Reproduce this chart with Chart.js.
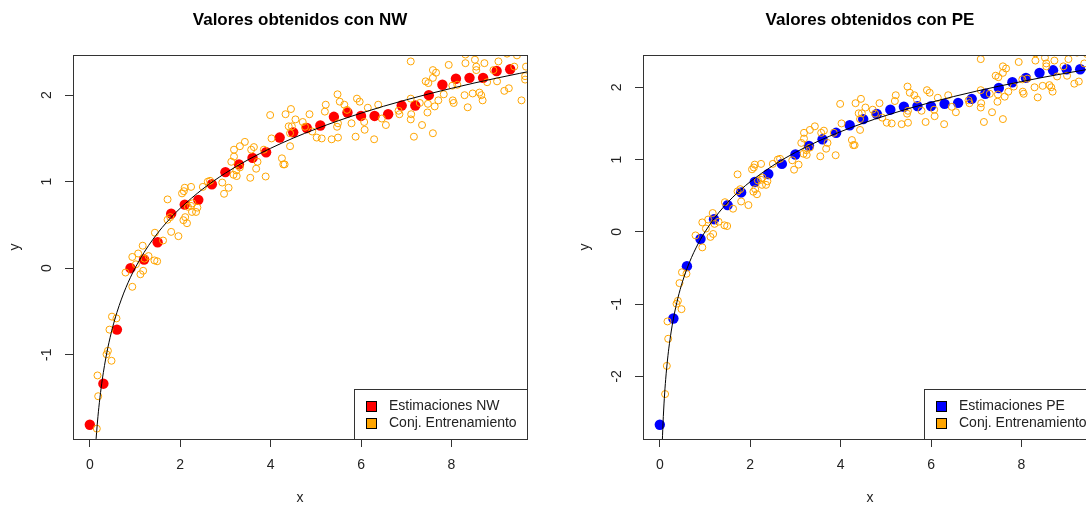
<!DOCTYPE html>
<html>
<head>
<meta charset="utf-8">
<script src="https://cdn.jsdelivr.net/npm/chart.js@4.4.1/dist/chart.umd.min.js"></script>
<style>
    html, body { margin: 0; padding: 0; background: #fff; overflow: hidden; width: 1086px; height: 507px; }
    canvas { position: absolute; top: 0; }
    #chart-nw { left: 0; }
    #chart-pe { left: 570px; }
</style>
</head>
<body>
<canvas id="chart-nw" width="570" height="507"></canvas>
<canvas id="chart-pe" width="570" height="507"></canvas>
<script>
// ---- Data ----
const estX = [0, 0.3, 0.6, 0.9, 1.2, 1.5, 1.8, 2.1, 2.4, 2.7, 3.0, 3.3, 3.6, 3.9, 4.2, 4.5,
              4.8, 5.1, 5.4, 5.7, 6.0, 6.3, 6.6, 6.9, 7.2, 7.5, 7.8, 8.1, 8.4, 8.7, 9.0, 9.3];
const nwY = [-1.81, -1.335, -0.71, 0.00, 0.10, 0.30, 0.63, 0.735, 0.79, 0.97, 1.11, 1.20, 1.275, 1.34, 1.51, 1.57,
             1.62, 1.65, 1.75, 1.80, 1.76, 1.76, 1.78, 1.88, 1.88, 2.00, 2.12, 2.19, 2.20, 2.20, 2.28, 2.30];
const peY = [-2.67, -1.20, -0.475, -0.10, 0.175, 0.37, 0.545, 0.69, 0.80, 0.94, 1.07, 1.19, 1.28, 1.37, 1.475, 1.56,
             1.63, 1.69, 1.73, 1.74, 1.74, 1.77, 1.785, 1.84, 1.91, 1.99, 2.07, 2.13, 2.20, 2.235, 2.25, 2.25];

// training set (same in both panels)
const trainX = [0.117, 0.155, 0.185, 0.17, 0.37, 0.40, 0.48, 0.435, 0.49, 0.59, 0.94, 0.79, 1.12, 1.18, 1.02, 0.94,
                1.07, 1.30, 1.43, 1.49, 1.21, 1.17, 1.44, 1.62, 1.80, 1.96, 1.72, 1.72, 1.78, 2.07, 2.15, 2.11,
                2.17, 2.10, 2.04, 2.08, 2.24, 2.26, 2.24, 2.35, 2.38, 2.27, 2.50, 2.61, 2.66, 2.93, 2.97, 3.07,
                3.13, 3.19, 3.19, 3.32, 3.43, 3.18, 3.25, 3.24, 3.32, 3.55, 3.57, 3.63, 3.68, 3.71, 3.85, 3.89,
                4.02, 3.99, 4.25, 4.28, 4.31, 4.33, 4.45, 4.40, 4.47, 4.55, 4.43, 4.43, 4.71, 4.76, 4.86, 4.92,
                5.02, 5.13, 5.20, 5.22, 5.35, 5.49, 5.48, 5.53, 5.63, 5.49, 5.47, 5.79, 5.69, 5.88, 5.91, 5.97,
                6.08, 6.07, 6.15, 6.29, 6.38, 6.46, 6.55, 6.83, 6.85, 7.10, 7.10, 7.11, 7.10, 7.17, 7.59, 7.35,
                7.47, 7.48, 7.63, 7.71, 7.30, 7.43, 7.49, 7.59, 7.66, 7.59, 7.83, 7.94, 8.03, 8.05, 8.02, 8.13,
                8.29, 8.36, 8.31, 8.31, 8.52, 8.55, 8.55, 8.73, 8.47, 8.62, 8.66, 8.69, 8.79, 8.93, 9.01, 9.04,
                9.17, 9.27, 9.23, 9.39, 9.55, 9.63, 9.63, 9.65, 9.45];
const trainY = [-2.245, -1.855, -1.48, -1.24, -0.995, -0.955, -1.07, -0.71, -0.56, -0.58, -0.215, -0.05, -0.07, -0.03, 0.045, 0.13,
                0.17, 0.14, 0.09, 0.08, 0.11, 0.26, 0.41, 0.32, 0.42, 0.37, 0.795, 0.56, 0.59, 0.555, 0.52, 0.59,
                0.71, 0.93, 0.865, 0.89, 0.94, 0.65, 0.72, 0.65, 0.70, 0.75, 0.94, 1.00, 1.01, 0.99, 0.86, 0.93,
                1.23, 1.29, 1.37, 1.41, 1.46, 1.08, 1.065, 1.13, 1.165, 1.045, 1.37, 1.40, 1.15, 1.23, 1.37, 1.06,
                1.50, 1.77, 1.27, 1.20, 1.20, 1.78, 1.84, 1.64, 1.64, 1.72, 1.41, 1.56, 1.69, 1.635, 1.78, 1.58,
                1.51, 1.50, 1.81, 1.89, 1.49, 1.51, 2.01, 1.925, 1.89, 1.675, 1.635, 1.675, 1.83, 1.52, 1.96, 1.925,
                1.60, 1.69, 1.855, 1.49, 1.89, 1.73, 1.655, 1.82, 1.78, 2.39, 1.96, 1.78, 1.72, 1.52, 1.56, 1.655,
                1.80, 1.90, 1.87, 1.94, 1.91, 2.16, 2.14, 2.29, 2.26, 2.20, 2.01, 2.35, 1.94, 1.91, 2.11, 2.12,
                2.00, 1.86, 2.47, 2.37, 2.41, 2.33, 2.29, 2.37, 2.02, 2.03, 2.00, 1.94, 2.15, 2.29, 2.16, 2.39,
                2.05, 2.08, 2.48, 2.33, 1.94, 2.22, 2.18, 2.33, 2.46];

// true curve
const curveX = [0.05, 0.07, 0.1, 0.13, 0.15, 0.18, 0.2, 0.25, 0.3, 0.35, 0.4, 0.5, 0.6, 0.7, 0.8, 0.9, 1.0,
                1.2, 1.4, 1.6, 1.8, 2.0, 2.5, 3.0, 3.5, 4.0, 4.5, 5.0, 5.5, 6.0, 6.5, 7.0, 7.5, 8.0, 8.5, 9.0, 9.5, 9.7];
const curveY = [-2.996, -2.659, -2.303, -2.040, -1.897, -1.715, -1.609, -1.386, -1.204, -1.050, -0.916, -0.693, -0.511, -0.357, -0.223, -0.105, 0,
                0.182, 0.336, 0.470, 0.588, 0.693, 0.916, 1.099, 1.253, 1.386, 1.504, 1.609, 1.705, 1.792, 1.872, 1.946, 2.015, 2.079, 2.140, 2.197, 2.251, 2.272];

const xTickVals = [0, 2, 4, 6, 8];
const nwYTicks = [-1, 0, 1, 2];
const peYTicks = [-2, -1, 0, 1, 2];

// ---- Helpers ----
const FONT = '"Liberation Sans", Arial, sans-serif';
Chart.defaults.font.family = FONT;
Chart.defaults.color = '#222';
Chart.defaults.animation = false;

const toPoints = (xs, ys) => xs.map((x, i) => ({ x: x, y: ys[i] }));

// R style axis range: data range extended by 4% each side
function rRange(vals) {
    const lo = Math.min(...vals), hi = Math.max(...vals);
    const d = (hi - lo) * 0.04;
    return [lo - d, hi + d];
}

// frame around plot + R style legend box in bottom right corner
const boxLegend = {
    id: 'boxLegend',
    afterDraw(chart, args, opts) {
        const { ctx, chartArea: a } = chart;
        ctx.save();
        ctx.lineWidth = 1;
        ctx.strokeStyle = '#333';
        ctx.strokeRect(Math.round(a.left) + 0.5, Math.round(a.top) + 0.5,
                       Math.round(a.right - a.left), Math.round(a.bottom - a.top));

        const w = 173, h = 50;
        const x0 = Math.round(a.right - w), y0 = Math.round(a.bottom - h);
        ctx.fillStyle = '#fff';
        ctx.fillRect(x0, y0, w, h);
        ctx.strokeRect(x0 + 0.5, y0 + 0.5, w, h);

        ctx.font = '14px ' + FONT;
        ctx.textBaseline = 'middle';
        opts.items.forEach((it, i) => {
            const cy = Math.round(y0 + 17 + i * 17.4);
            ctx.fillStyle = it.color;
            ctx.fillRect(x0 + 12, cy - 5, 10, 10);
            ctx.strokeStyle = '#000';
            ctx.strokeRect(x0 + 12.5, cy - 4.5, 10, 10);
            ctx.fillStyle = '#222';
            ctx.fillText(it.text, x0 + 35, cy);
        });
        ctx.restore();
    }
};

function axisCommon() {
    return {
        grid: { drawOnChartArea: false, drawTicks: true, tickLength: 8, color: '#333' },
        border: { display: true, color: '#333' }
    };
}

function makeChart(id, title, estY, estLabel, estColor, yTicks) {
    const xr = rRange(estX);
    const yr = rRange(estY);
    return new Chart(document.getElementById(id), {
        type: 'scatter',
        data: {
            datasets: [
                {
                    label: 'curve', data: toPoints(curveX, curveY), showLine: true,
                    borderColor: '#000', borderWidth: 1, pointRadius: 0,
                    cubicInterpolationMode: 'monotone', order: 0, clip: 0
                },
                {
                    label: 'Conj. Entrenamiento', data: toPoints(trainX, trainY),
                    pointRadius: 3.5, pointBorderWidth: 1, pointBorderColor: '#FFA500',
                    pointBackgroundColor: 'rgba(0,0,0,0)', order: 1, clip: 0
                },
                {
                    label: estLabel, data: toPoints(estX, estY),
                    pointRadius: 5.2, pointBorderWidth: 0, pointBackgroundColor: estColor,
                    order: 2, clip: 0
                }
            ]
        },
        options: {
            responsive: false,
            devicePixelRatio: 1,
            events: [],
            layout: { padding: { left: 0, right: 43, top: 0, bottom: 0 } },
            scales: {
                x: {
                    type: 'linear', min: xr[0], max: xr[1],
                    afterBuildTicks: s => { s.ticks = xTickVals.map(v => ({ value: v })); },
                    afterFit: s => { s.height = 68; },
                    ...axisCommon(),
                    ticks: { font: { size: 14 }, padding: 10, color: '#222' },
                    title: { display: true, text: 'x', font: { size: 14 }, color: '#222', padding: { top: 0, bottom: 0 } }
                },
                y: {
                    type: 'linear', min: yr[0], max: yr[1],
                    afterBuildTicks: s => { s.ticks = yTicks.map(v => ({ value: v })); },
                    afterFit: s => { s.width = 73; },
                    ...axisCommon(),
                    ticks: { font: { size: 14 }, minRotation: 90, maxRotation: 90, crossAlign: 'center', padding: 12, color: '#222' },
                    title: { display: true, text: 'y', font: { size: 14 }, color: '#222', padding: { top: 7, bottom: 0 } }
                }
            },
            plugins: {
                legend: { display: false },
                tooltip: { enabled: false },
                title: {
                    display: true, text: title, fullSize: false, color: '#000',
                    font: { size: 17, weight: 'bold' }, padding: { top: 10, bottom: 24.6 }
                },
                boxLegend: {
                    items: [
                        { text: estLabel, color: estColor },
                        { text: 'Conj. Entrenamiento', color: '#FFA500' }
                    ]
                }
            }
        },
        plugins: [boxLegend]
    });
}

makeChart('chart-nw', 'Valores obtenidos con NW', nwY, 'Estimaciones NW', '#FF0000', nwYTicks);
makeChart('chart-pe', 'Valores obtenidos con PE', peY, 'Estimaciones PE', '#0000FF', peYTicks);
</script>
</body>
</html>
